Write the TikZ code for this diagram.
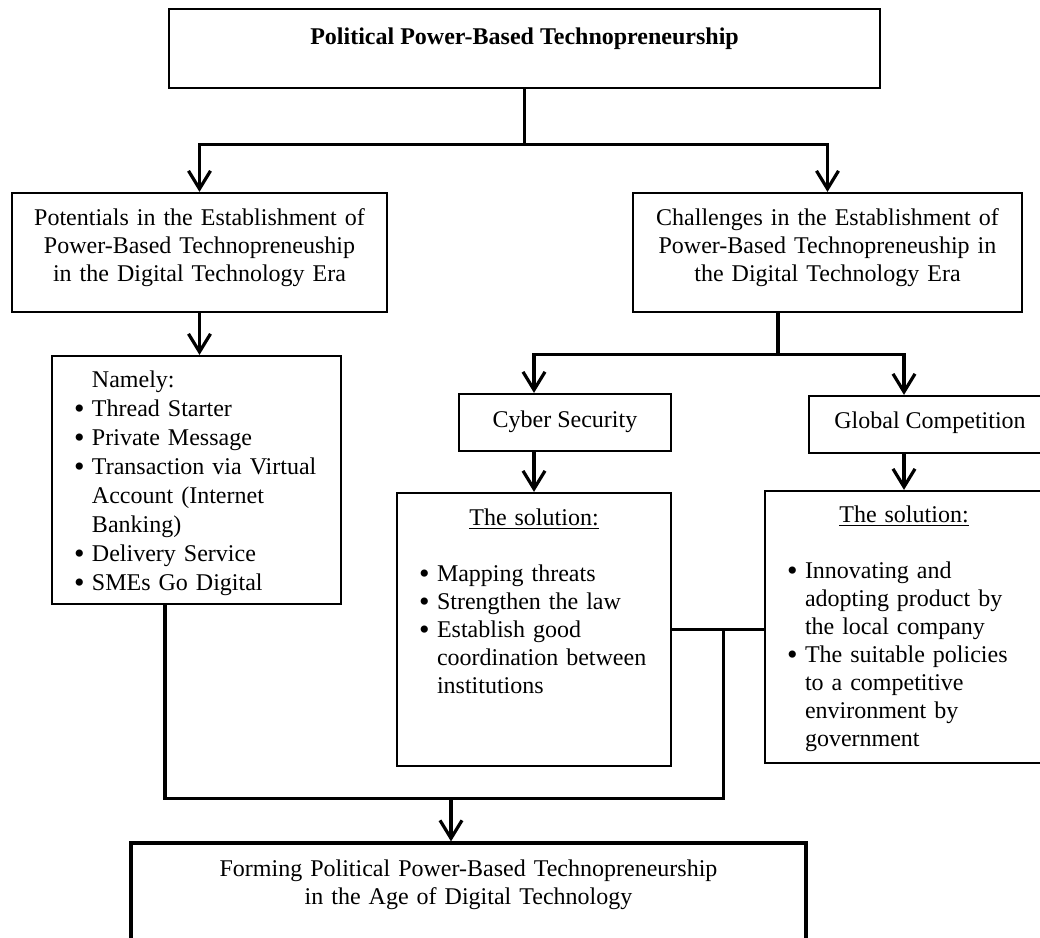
\documentclass[tikz,border=0pt]{standalone}
\usepackage{fontspec}
\setmainfont{Liberation Serif}
\usetikzlibrary{arrows.meta}
\newcommand{\itm}{\makebox[9pt][l]{\raisebox{-1.2pt}{\scalebox{1.25}{\textbullet}}}}

\begin{document}
\begin{tikzpicture}[
  box/.style={rectangle, draw, line width=1.1pt, inner sep=0pt, font=\fontsize{12pt}{14pt}\selectfont},
  list/.style={box, align=left, inner xsep=11pt},
  link/.style={line width=1.6pt},
  arrow/.style={link, -{Straight Barb[length=9pt,width=11pt]}},
  node distance=100pt
]
\useasboundingbox (0,0) rectangle (520pt,-469pt);
\clip (0,0) rectangle (520pt,-469pt);

% Top
\node[box, line width=1.3pt, minimum width=355.5pt, text height=17.5pt, text depth=22pt, font=\fontsize{12pt}{14pt}\selectfont\bfseries] (title) at (262.25pt,-24.25pt) {Political Power-Based Technopreneurship};

% Potentials branch
\node[box, below of=title, node distance=102pt, xshift=-162.5pt, text width=187.5pt, align=center, text height=16pt, text depth=43.5pt] (pot) {Potentials in the Establishment of\\Power-Based Technopreneuship\\in the Digital Technology Era};
\node[list, below of=pot, node distance=113.75pt, xshift=-1.5pt, text width=122.5pt, text height=15.5pt, text depth=108.5pt, font=\fontsize{12pt}{14.5pt}\selectfont] (namely) {\hspace*{9pt}Namely:\\
  \itm Thread Starter\\
  \itm Private Message\\
  \itm Transaction via Virtual\\
  \hspace*{9pt}Account (Internet\\
  \hspace*{9pt}Banking)\\
  \itm Delivery Service\\
  \itm SMEs Go Digital};

% Challenges branch
\node[box, below of=title, node distance=102pt, xshift=151.5pt, text width=194.5pt, align=center, text height=16pt, text depth=43.5pt] (chal) {Challenges in the Establishment of\\Power-Based Technopreneuship in\\the Digital Technology Era};
\node[box, below of=chal, node distance=85pt, xshift=-131.25pt, minimum width=106pt, text height=16.5pt, text depth=12pt] (cyber) {Cyber Security};
\node[box, below of=chal, node distance=86pt, xshift=51.25pt, minimum width=121pt, text height=16pt, text depth=12.5pt] (global) {Global Competition};
\node[list, below of=cyber, node distance=103.5pt, xshift=-15.5pt, text width=115pt, text height=16pt, text depth=120.5pt] (cybsol) {\makebox[\linewidth]{\underline{The solution:}}\\[14pt]
  \itm Mapping threats\\
  \itm Strengthen the law\\
  \itm Establish good\\
  \hspace*{9pt}coordination between\\
  \hspace*{9pt}institutions};
\node[list, below of=global, node distance=101.25pt, xshift=-13pt, text width=117pt, text height=15.5pt, text depth=120.5pt] (globsol) {\makebox[\linewidth]{\underline{The solution:}}\\[14pt]
  \itm Innovating and\\
  \hspace*{9pt}adopting product by\\
  \hspace*{9pt}the local company\\
  \itm The suitable policies\\
  \hspace*{9pt}to a competitive\\
  \hspace*{9pt}environment by\\
  \hspace*{9pt}government};

% Result
\node[box, line width=1.6pt, below of=namely, node distance=211.5pt, xshift=136pt, text width=337.5pt, align=center, text height=16.5pt, text depth=43.5pt] (form) {Forming Political Power-Based Technopreneurship\\in the Age of Digital Technology};

% Connections
\draw[arrow] (title.south) -- ++(0,-27.5pt) -| (pot.north);
\draw[arrow] (title.south) -- ++(0,-27.5pt) -| (chal.north);
\draw[arrow] (pot.south) -- (pot.south |- namely.north);
\draw[arrow] ([xshift=-24.75pt]chal.south) -- ++(0,-20.5pt) -| (cybsol.north |- cyber.north);
\draw[arrow] ([xshift=-24.75pt]chal.south) -- ++(0,-20.5pt) -| (globsol.north |- global.north);
\draw[arrow] (cybsol.north |- cyber.south) -- (cybsol.north);
\draw[arrow] (globsol.north |- global.south) -- (globsol.north);
\draw[link] (cybsol.east) -- (cybsol.east -| globsol.west);
\draw[link] ([xshift=25.5pt]cybsol.east) |- ([yshift=21.5pt]form.north);
\draw[link] ([xshift=-15.75pt]namely.south) |- ([yshift=21.5pt]form.north);
\draw[arrow] ([xshift=-8.75pt,yshift=21.5pt]form.north) -- ([xshift=-8.75pt]form.north);
\end{tikzpicture}
\end{document}
